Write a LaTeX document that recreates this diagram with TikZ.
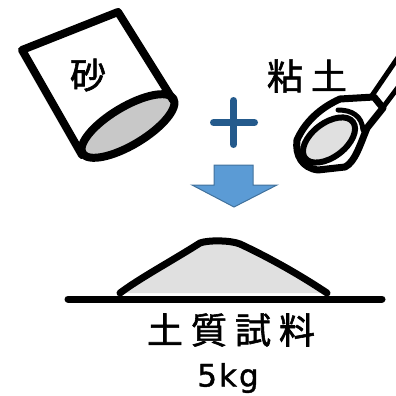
\documentclass[tikz,border=0pt]{standalone}
\usepackage{fontspec}
\newfontfamily\jpfont[FakeBold=1.6]{Noto Sans CJK JP}
\newfontfamily\latfont[FakeBold=1.2]{DejaVu Sans}
\definecolor{plusblue}{HTML}{245A8C}
\definecolor{arrowfill}{HTML}{5B9BD5}
\definecolor{arrowedge}{HTML}{41719C}
\definecolor{sandgray}{HTML}{C8C8C8}
\definecolor{lightgray}{HTML}{E0E0E0}
\tikzset{
  outline/.style={draw=black, line width=7pt, line join=round, line cap=round},
  jplabel/.style={inner sep=0pt, font=\jpfont\fontsize{36}{36}\selectfont},
}
\begin{document}
\begin{tikzpicture}[x=1pt, y=-1pt]
\useasboundingbox (0,0) rectangle (396,396);

% sand bucket, tipped over
\fill[white] (82,155) -- (22,50) -- (118,12) -- (173,100) -- cycle;
\draw[outline, line width=8pt, fill=sandgray, rotate around={31:(128,126)}] (128,126) ellipse [x radius=53, y radius=19];
\draw[outline, line width=8pt] (82,155) -- (22,50) -- (118,12) -- (173,100);
\node[jplabel] (sand) at (88,75) {砂};

% plus sign
\draw[line width=7pt, line cap=round, plusblue] (213.5,122.5) -- (254.5,122.5);
\draw[line width=7pt, line cap=round, plusblue] (233.5,100.5) -- (233.5,144.5);

% clay sampler
\draw[line width=5pt, line cap=round] (371,97) -- (399,56);
\draw[line width=5pt, line cap=round] (381,110) -- (399,86);
\draw[outline, fill=white]
  (297,140) .. controls (305,122) and (320,108) .. (340,99)
  -- (374,97) -- (383,108) -- (367,128)
  .. controls (360,145) and (355,162) .. (345,167)
  -- (318,170) .. controls (302,168) and (295,155) .. (297,140) -- cycle;
\draw[outline, line width=6pt, fill=lightgray, rotate around={37:(329,140)}] (329,140) ellipse [x radius=30, y radius=17];
\draw[outline, line width=5pt] (338,110) .. controls (352,110) and (362,116) .. (363,130);
\node[jplabel] (clay) at (307,76) {粘\hspace{8pt}土};

% downward arrow
\draw[fill=arrowfill, draw=arrowedge, line width=1pt]
  (214,165) -- (253,165) -- (253,185) -- (277,185) -- (234,207) -- (192,185) -- (214,185) -- cycle;

% soil pile on the ground
\draw[outline, fill=lightgray]
  (120,293) .. controls (140,278) and (170,262) .. (200,243)
  .. controls (208,240) and (230,240) .. (240,244)
  .. controls (270,258) and (300,275) .. (327,293);
\draw[line width=7pt, line cap=round] (68,299) -- (382,299);

\node[jplabel] (sample) at (231,330) {土\hspace{8pt}質\hspace{8pt}試\hspace{8pt}料};
\node[inner sep=0pt, font=\latfont\fontsize{31}{31}\selectfont] (mass) at (228,378) {5\hspace{2pt}k\hspace{2pt}g};
\end{tikzpicture}
\end{document}
